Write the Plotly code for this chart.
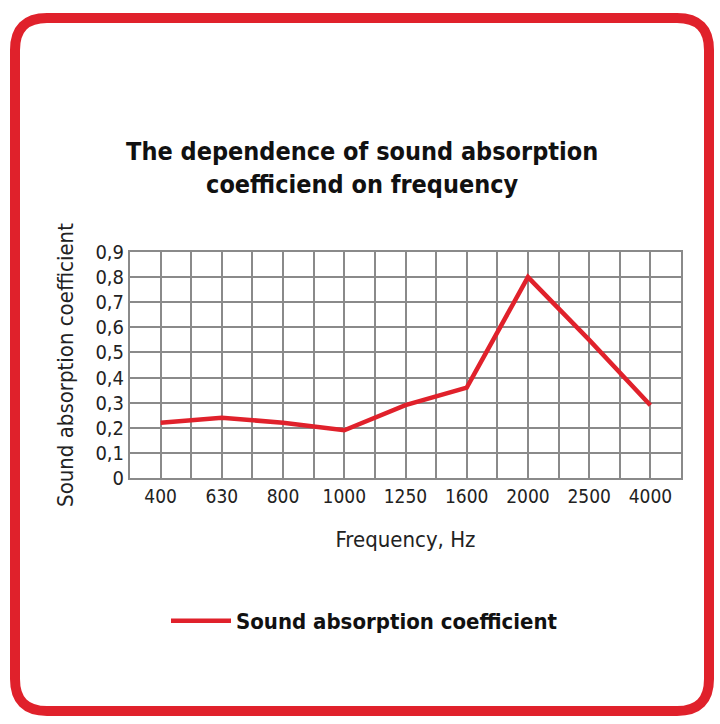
import plotly.graph_objects as go

categories = ["400", "630", "800", "1000", "1250", "1600", "2000", "2500", "4000"]
values = [0.22, 0.24, 0.22, 0.19, 0.29, 0.36, 0.80, 0.55, 0.29]
y_ticks = [0, 0.1, 0.2, 0.3, 0.4, 0.5, 0.6, 0.7, 0.8, 0.9]
y_tick_labels = ["0", "0,1", "0,2", "0,3", "0,4", "0,5", "0,6", "0,7", "0,8", "0,9"]

W, H = 720, 724
FONT = "Liberation Sans Narrow, DejaVu Sans Condensed, Roboto, sans-serif"
RED = "#e0212b"
GRID = "#8a8a8a"

fig = go.Figure()
fig.add_trace(go.Scatter(
    x=list(range(len(categories))), y=values, mode="lines",
    line=dict(color=RED, width=4.5), name="<b>Sound absorption coefficient</b>",
))

ml, mr, mt, mb = 130, 39, 252, 246
fig.update_layout(
    width=W, height=H,
    margin=dict(l=ml, r=mr, t=mt, b=mb),
    paper_bgcolor="white", plot_bgcolor="white",
    font=dict(family=FONT, color="#1a1a1a"),
    title=dict(
        text="<b>The dependence of sound absorption<br>coefficiend on frequency</b>",
        x=0.503, xanchor="center", y=1 - 160 / H, yanchor="middle",
        yref="container", font=dict(size=25, family=FONT, color="#111"),
    ),
    xaxis=dict(
        range=[-0.5, len(categories) - 0.5],
        tickmode="array", tickvals=list(range(len(categories))), ticktext=categories,
        showgrid=True, gridcolor=GRID, gridwidth=2,
        minor=dict(tickmode="array", tickvals=[i - 0.5 for i in range(len(categories) + 1)],
                   showgrid=True, gridcolor=GRID, gridwidth=2),
        showline=True, linecolor=GRID, linewidth=2, mirror=True,
        ticks="", tickfont=dict(size=19, color="#222"),
        title=dict(text="Frequency, Hz", font=dict(size=22, color="#222"), standoff=26),
        zeroline=False, fixedrange=True,
    ),
    yaxis=dict(
        range=[0, 0.9], tickmode="array", tickvals=y_ticks, ticktext=y_tick_labels,
        showgrid=True, gridcolor=GRID, gridwidth=2,
        showline=True, linecolor=GRID, linewidth=2, mirror=True,
        ticks="", tickfont=dict(size=20, color="#222"),
        title=dict(text="Sound absorption coefficient", font=dict(size=22, color="#222"), standoff=16),
        zeroline=False, fixedrange=True,
    ),
    showlegend=True,
    legend=dict(
        orientation="h", x=(166 - ml) / (W - ml - mr), xanchor="left",
        y=-(621 - (H - mb)) / (H - mt - mb), yanchor="middle",
        font=dict(size=22, family=FONT, color="#111"),
        itemwidth=60,
    ),
)

# rounded red frame (container-level, paper coordinates)
pw, ph = W - ml - mr, H - mt - mb
def px(x):
    return (x - ml) / pw
def py(y):
    return (H - mb - y) / ph
x0, x1, y0, y1, r = 15, 709, 18, 711, 32
path = (
    f"M {px(x0 + r)},{py(y0)} L {px(x1 - r)},{py(y0)} Q {px(x1)},{py(y0)} {px(x1)},{py(y0 + r)} "
    f"L {px(x1)},{py(y1 - r)} Q {px(x1)},{py(y1)} {px(x1 - r)},{py(y1)} "
    f"L {px(x0 + r)},{py(y1)} Q {px(x0)},{py(y1)} {px(x0)},{py(y1 - r)} "
    f"L {px(x0)},{py(y0 + r)} Q {px(x0)},{py(y0)} {px(x0 + r)},{py(y0)} Z"
)
fig.add_shape(type="path", path=path, xref="paper", yref="paper",
              line=dict(color=RED, width=10), layer="above")

fig.write_html("out.html")
